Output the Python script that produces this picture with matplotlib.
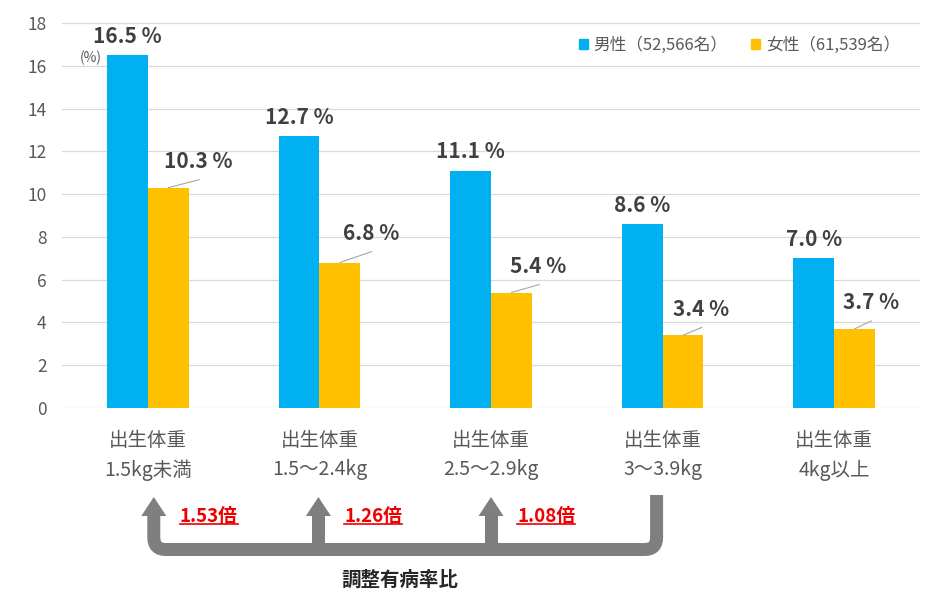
import matplotlib
matplotlib.use("Agg")
import matplotlib.pyplot as plt
from matplotlib.path import Path
from matplotlib.patches import PathPatch, Polygon, Patch

plt.rcParams['font.family'] = ['Noto Sans CJK JP', 'DejaVu Sans']

# ---- data ----
cat_line1 = ["出生体重"] * 5
cat_line2 = ["1.5kg未満", "1.5～2.4kg", "2.5～2.9kg", "3～3.9kg", "4kg以上"]
male = [16.5, 12.7, 11.1, 8.6, 7.0]
female = [10.3, 6.8, 5.4, 3.4, 3.7]
legend_labels = ["男性（52,566名）", "女性（61,539名）"]
ratios = ["1.53倍", "1.26倍", "1.08倍"]
ratio_title = "調整有病率比"
yticks = [0, 2, 4, 6, 8, 10, 12, 14, 16, 18]

# label offsets for female labels (pixels): right, up
f_dx = [30, 31, 27, 18, 16]
f_up = [26, 29, 26, 26, 26]

BLUE = "#00B0F0"
ORANGE = "#FFC000"
GRID = "#d9d9d9"
TXT = "#595959"
LBL = "#404040"
PX = 0.72  # points per pixel at dpi 100

W, H = 930, 616
fig = plt.figure(figsize=(W / 100, H / 100), dpi=100)
ax = fig.add_axes([62 / W, 1 - 408 / H, (920 - 62) / W, (408 - 23) / H])

n = len(male)
xs = list(range(n))
bw = 0.238
ax.bar([x - bw / 2 for x in xs], male, width=bw, color=BLUE, zorder=3)
ax.bar([x + bw / 2 for x in xs], female, width=bw, color=ORANGE, zorder=3)

ax.set_xlim(-0.5, n - 0.5)
ax.set_ylim(0, 18)
ax.set_yticks(yticks)
ax.set_yticklabels([str(t) for t in yticks], fontsize=12.5, color=TXT)
ax.tick_params(axis='y', length=0, pad=11)
ax.set_xticks([])
ax.grid(axis='y', color=GRID, lw=0.9, zorder=0)
for s in ax.spines.values():
    s.set_visible(False)

# category labels
for i in xs:
    ax.annotate(cat_line1[i], xy=(i, 0), xycoords=('data', 'axes fraction'),
                xytext=(0, -32 * PX), textcoords='offset points',
                ha='center', va='center', fontsize=14, color=TXT)
    ax.annotate(cat_line2[i], xy=(i, 0), xycoords=('data', 'axes fraction'),
                xytext=(0, -62 * PX), textcoords='offset points',
                ha='center', va='center', fontsize=14, color=TXT)

# value labels
for i in xs:
    ax.annotate(f"{male[i]:.1f} %", xy=(i - bw / 2, male[i]),
                xytext=(0, 19 * PX), textcoords='offset points',
                ha='center', va='center', fontsize=15, fontweight='bold', color=LBL, zorder=5)
    ax.annotate(f"{female[i]:.1f} %", xy=(i + bw / 2, female[i]),
                xytext=(f_dx[i] * PX, f_up[i] * PX), textcoords='offset points',
                ha='center', va='center', fontsize=15, fontweight='bold', color=LBL, zorder=5)
    ax.annotate("", xy=(i + bw / 2, female[i]),
                xytext=((f_dx[i] + 1) * PX, (f_up[i] - 18) * PX), textcoords='offset points',
                arrowprops=dict(arrowstyle='-', color='#a6a6a6', lw=0.8,
                                shrinkA=0, shrinkB=0), zorder=4)

# legend
handles = [Patch(color=BLUE), Patch(color=ORANGE)]
leg = ax.legend(handles, legend_labels, loc='center right',
                bbox_to_anchor=((900 - 62) / 858, (408 - 45) / 385),
                ncol=2, frameon=False, fontsize=12, handlelength=0.55, handleheight=0.55,
                handletextpad=0.35, columnspacing=1.4, borderpad=0, borderaxespad=0)
for t in leg.get_texts():
    t.set_color(TXT)

# overlay in pixel coordinates
ov = fig.add_axes([0, 0, 1, 1])
ov.set_xlim(0, W)
ov.set_ylim(H, 0)
ov.axis('off')
ov.patch.set_alpha(0)

ov.text(91, 58, "(%)", fontsize=10, color=TXT, ha='center', va='center')

fig.canvas.draw()
cx = [ax.transData.transform((i, 0))[0] for i in xs]
arrow_off = [6, -1, 0, -6]
ax_x = [cx[i] + arrow_off[i] for i in range(4)]

GRAY = "#7f7f7f"
lw = 13 * PX
yb = 549.5
r = 12
xl, xr = ax_x[0], ax_x[3]
verts = [(xr, 495), (xr, yb - r), (xr, yb), (xr - r, yb), (xl + r, yb),
         (xl, yb), (xl, yb - r), (xl, 515)]
codes = [Path.MOVETO, Path.LINETO, Path.CURVE3, Path.CURVE3, Path.LINETO,
         Path.CURVE3, Path.CURVE3, Path.LINETO]
ov.add_patch(PathPatch(Path(verts, codes), fill=False, lw=lw, edgecolor=GRAY,
                       capstyle='butt', joinstyle='miter'))
for x in ax_x[1:3]:
    ov.plot([x, x], [yb, 515], color=GRAY, lw=lw, solid_capstyle='butt')
for x in ax_x[:3]:
    ov.add_patch(Polygon([(x - 12.5, 516), (x, 497), (x + 12.5, 516)], closed=True,
                         color=GRAY, lw=0))

RED = "#ee0000"
renderer = fig.canvas.get_renderer()
for k, txt in enumerate(ratios):
    t = ov.text(ax_x[k] + 26, 516, txt, fontsize=13.5, fontweight='bold', color=RED,
                ha='left', va='center')
    bb = t.get_window_extent(renderer)
    ov.plot([bb.x0, bb.x1], [524, 524], color=RED, lw=1.2)

ov.text(400, 580, ratio_title, fontsize=14, fontweight='bold', color='#262626',
        ha='center', va='center')

fig.savefig("out.png", dpi=100)
